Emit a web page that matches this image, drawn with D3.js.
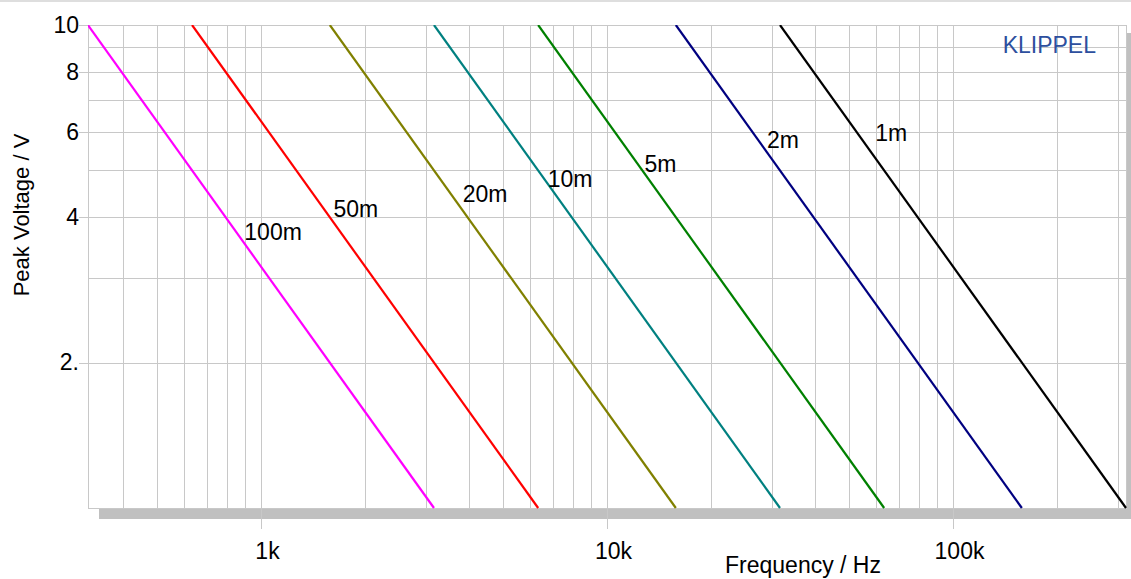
<!DOCTYPE html>
<html>
<head>
<meta charset="utf-8">
<script src="https://cdn.jsdelivr.net/npm/d3@7"></script>
<style>
  html, body { margin: 0; padding: 0; background: #fff; }
  svg { display: block; font-family: "Liberation Sans", Arial, sans-serif; }
</style>
</head>
<body>
<svg id="chart" width="1131" height="579"></svg>
<script>
// ---- data ----
const seriesLabels = ["100m", "50m", "20m", "10m", "5m", "2m", "1m"];
const seriesColors = ["#ff00ff", "#ff0000", "#808000", "#008080", "#008000", "#000080", "#000000"];
// frequency (Hz) where each line crosses 10 V (top) and 1 V (bottom)
const freqAtTop    = [316, 632, 1581, 3162, 6325, 15811, 31623];
const freqAtBottom = [3162, 6325, 15811, 31623, 63246, 158114, 316228];
const voltTop = 10, voltBottom = 1;
// label anchor points (frequency, voltage)
const labelFreq = [895, 1620, 3830, 6740, 12830, 29000, 59600];
const labelVolt = [3.59, 4.00, 4.30, 4.63, 4.97, 5.56, 5.76];

const xDomain = [316.228, 316228];
const yDomain = [1, 10];
const xGridValues = [400,500,600,700,800,900,1000,2000,3000,4000,5000,6000,7000,8000,9000,
  10000,20000,30000,40000,50000,60000,70000,80000,90000,100000,200000,300000];
const yGridValues = [1,2,3,4,5,6,7,8,9,10];
const xTickValues = [1000, 10000, 100000];
const xTickLabels = ["1k", "10k", "100k"];
const yTickValues = [10, 8, 6, 4, 2];
const yTickLabels = ["10", "8", "6", "4", "2."];

// ---- layout ----
const L = 88, T = 25, R = 1126, B = 508;
const W = R - L, H = B - T;
const gridColor = "#c8c8c8";
const FS = 23;

const svg = d3.select("#chart");
const x = d3.scaleLog().domain(xDomain).range([L, R]);
const y = d3.scaleLog().domain(yDomain).range([B, T]);

// top band
svg.append("rect").attr("x", 0).attr("y", 0).attr("width", 1131).attr("height", 2).attr("fill", "#dedede");
// shadow
svg.append("rect").attr("x", 99).attr("y", 33).attr("width", R - 99 + 12).attr("height", B - 33 + 11).attr("fill", "#c0c0c0");
// plot background
svg.append("rect").attr("x", L).attr("y", T).attr("width", W).attr("height", H).attr("fill", "#fff");

// grid
const gx = svg.append("g").attr("transform", `translate(0,${B})`)
  .call(d3.axisBottom(x).tickValues(xGridValues).tickSize(-H).tickFormat(""));
gx.select(".domain").remove();
gx.selectAll("line").attr("stroke", gridColor).attr("shape-rendering", "crispEdges");

const gy = svg.append("g").attr("transform", `translate(${L},0)`)
  .call(d3.axisLeft(y).tickValues(yGridValues).tickSize(-W).tickFormat(""));
gy.select(".domain").remove();
gy.selectAll("line").attr("stroke", gridColor).attr("shape-rendering", "crispEdges");

// frame
svg.append("rect").attr("x", L + 0.5).attr("y", T + 0.5).attr("width", W).attr("height", H)
  .attr("fill", "none").attr("stroke", gridColor);

// clip
svg.append("clipPath").attr("id", "clip").append("rect")
  .attr("x", L).attr("y", T).attr("width", W + 1).attr("height", H + 1);

const line = d3.line().x(d => x(d[0])).y(d => y(d[1]));
const lines = svg.append("g").attr("clip-path", "url(#clip)");
seriesLabels.forEach((lab, i) => {
  lines.append("path")
    .attr("d", line([[freqAtTop[i], voltTop], [freqAtBottom[i], voltBottom]]))
    .attr("fill", "none").attr("stroke", seriesColors[i]).attr("stroke-width", 2.2);
});

// curve labels
seriesLabels.forEach((lab, i) => {
  svg.append("text").attr("x", x(labelFreq[i])).attr("y", y(labelVolt[i]))
    .attr("font-size", FS).attr("fill", "#000").text(lab);
});

// y axis labels
const ay = svg.append("g").attr("transform", `translate(${L},0)`)
  .call(d3.axisLeft(y).tickValues(yTickValues).tickFormat((d, i) => yTickLabels[i]).tickSize(9).tickPadding(0));
ay.select(".domain").remove();
ay.selectAll("line").attr("stroke", gridColor).attr("shape-rendering", "crispEdges");
ay.selectAll("text").attr("font-size", FS).attr("fill", "#000").attr("font-family", null);

// x axis labels
const ax = svg.append("g").attr("transform", `translate(0,${B})`)
  .call(d3.axisBottom(x).tickValues(xTickValues).tickFormat((d, i) => xTickLabels[i]).tickSize(21).tickPadding(14));
ax.select(".domain").remove();
ax.selectAll("line").attr("stroke", gridColor).attr("shape-rendering", "crispEdges");
ax.selectAll("text").attr("font-size", FS).attr("fill", "#000").attr("font-family", null).attr("dx", 6);

// titles
svg.append("text").attr("x", 803).attr("y", 573).attr("text-anchor", "middle")
  .attr("font-size", FS).attr("fill", "#000").text("Frequency / Hz");
svg.append("text").attr("transform", "translate(29,215) rotate(-90)").attr("text-anchor", "middle")
  .attr("font-size", 22).attr("fill", "#000").text("Peak Voltage / V");
svg.append("text").attr("x", 1096).attr("y", 53).attr("text-anchor", "end")
  .attr("font-size", FS).attr("fill", "#2d4f9e").text("KLIPPEL");
</script>
</body>
</html>
